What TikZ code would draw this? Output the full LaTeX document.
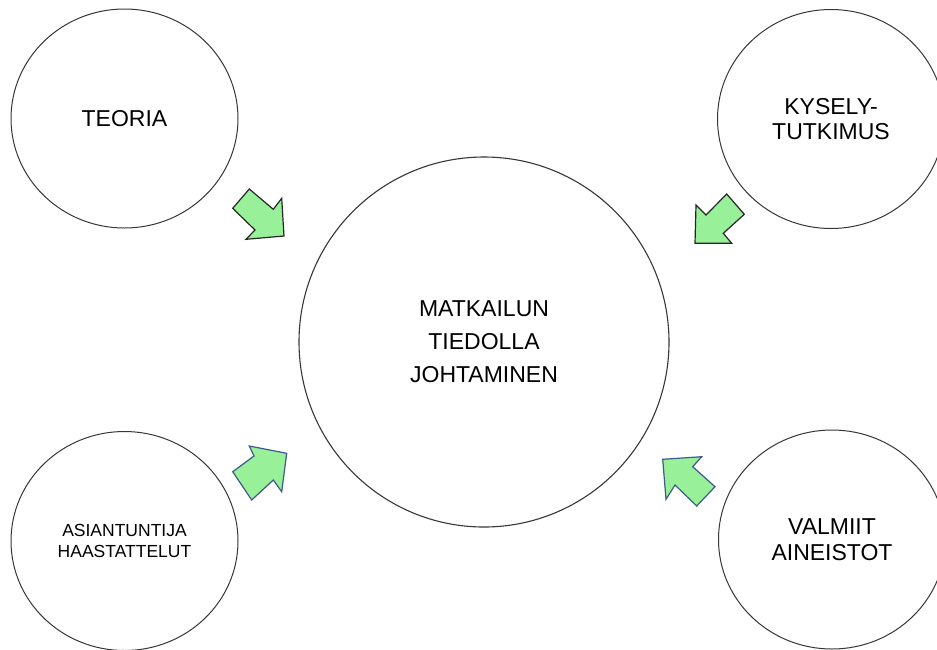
\documentclass[tikz,border=0pt]{standalone}
\usepackage{fontspec}
\setmainfont{Liberation Sans}
\usetikzlibrary{shapes.geometric}
\definecolor{arrfill}{RGB}{152,240,152}
\definecolor{arrblue}{RGB}{60,90,140}
\definecolor{ringcol}{RGB}{55,55,55}
\tikzset{
  bubble/.style={ellipse, draw=ringcol, line width=1pt, inner sep=0pt, align=center,
                 minimum width=227pt, minimum height=219pt},
  bigbubble/.style={circle, draw=ringcol, line width=1.1pt, inner sep=0pt, align=center,
                 minimum size=370pt, font=\fontsize{23}{33}\selectfont},
  bigtxt/.style={font=\fontsize{23}{25.5}\selectfont},
  smalltxt/.style={font=\fontsize{17.5}{21}\selectfont},
  blockarrowk/.style={fill=arrfill, draw=black!85, line width=1.2pt, line join=miter},
  blockarrowb/.style={fill=arrfill, draw=arrblue, line width=1.2pt, line join=miter}
}
\begin{document}
\begin{tikzpicture}[x=1pt,y=-1pt]
\useasboundingbox (0,0) rectangle (937,649);
\fill[white] (0,0) rectangle (937,649);

\node[bigbubble] (main) at (484,342) {MATKAILUN\\TIEDOLLA\\JOHTAMINEN};
\node[bubble, bigtxt] (teoria) at (124.5,118.5) {TEORIA};
\node[bubble, bigtxt] (kysely) at (831,119) {KYSELY-\\TUTKIMUS};
\node[bubble, smalltxt] (asiantuntija) at (124.5,541) {ASIANTUNTIJA\\HAASTATTELUT};
\node[bubble, bigtxt] (valmiit) at (832,539.5) {VALMIIT\\AINEISTOT};

% block arrows (shapes)
\draw[blockarrowk] (249.3,189) -- (273.3,209.3) -- (281.7,198.3) -- (284,236)
  -- (246,239.3) -- (255,230) -- (232.7,208.3) -- cycle;
\draw[blockarrowk] (726.7,194) -- (744.3,214.3) -- (723.3,233.3) -- (731.7,243.3)
  -- (695,243.3) -- (696,205) -- (706,215) -- cycle;
\draw[blockarrowb] (249.3,446) -- (286.7,453.3) -- (281.7,491.7) -- (273.3,480)
  -- (251.7,500) -- (232.7,471.7) -- (254,456) -- cycle;
\draw[blockarrowb] (662.7,459.3) -- (701.7,456.7) -- (692.7,466.7) -- (715,486.7)
  -- (696.7,506) -- (675,485) -- (666,499.3) -- cycle;
\end{tikzpicture}
\end{document}
